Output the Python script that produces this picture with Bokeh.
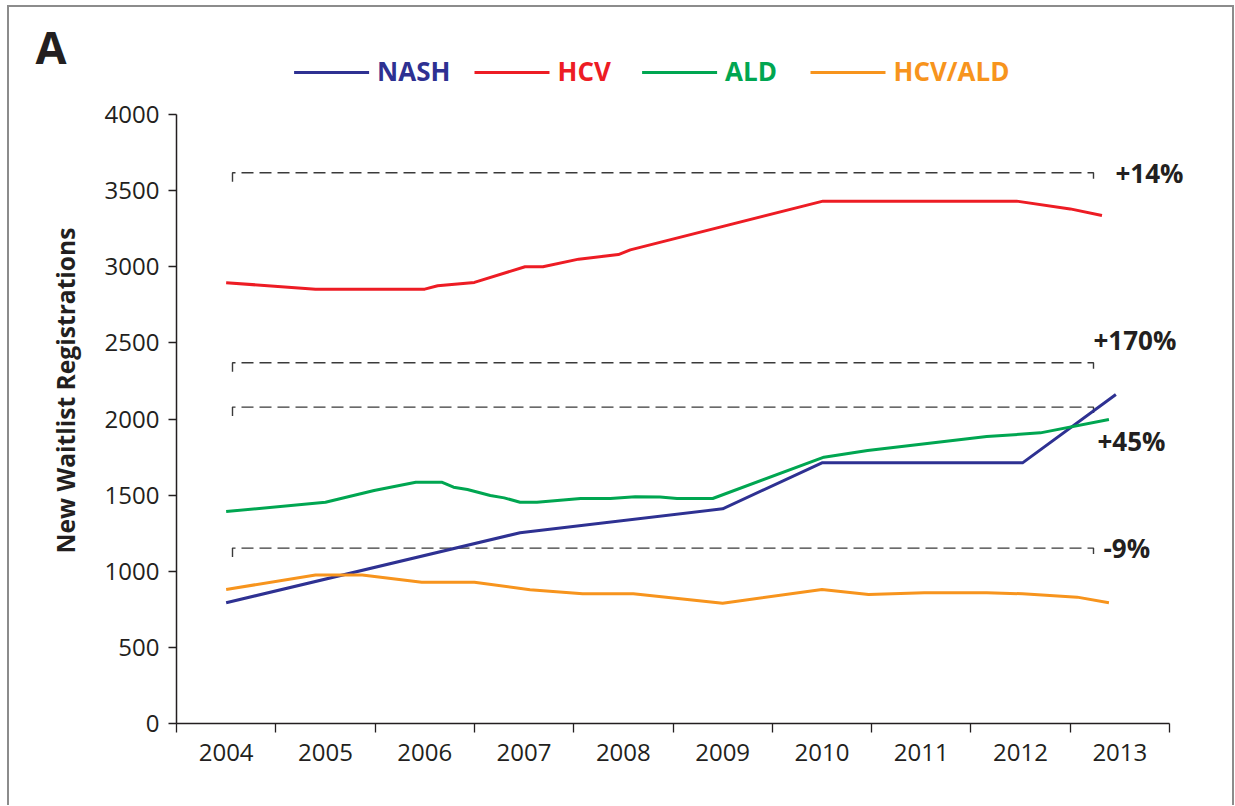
from bokeh.plotting import figure
from bokeh.layouts import column
from bokeh.models import Range1d, FixedTicker, LinearAxis, Title
from bokeh.embed import file_html
from bokeh.resources import INLINE
from bokeh.core.properties import value

# ---------------- data ----------------
YEARS = [2004, 2005, 2006, 2007, 2008, 2009, 2010, 2011, 2012, 2013]
Y_TICKS = [0, 500, 1000, 1500, 2000, 2500, 3000, 3500, 4000]

NASH_X = [2004.0, 2006.96, 2009.0, 2010.0, 2012.02, 2012.96]
NASH_Y = [793, 1253, 1410, 1712, 1712, 2161]

HCV_X = [2004.0, 2004.9, 2006.0, 2006.13, 2006.5, 2007.01, 2007.19, 2007.55,
         2007.95, 2008.07, 2010.01, 2011.96, 2012.5, 2012.82]
HCV_Y = [2895, 2853, 2853, 2875, 2897, 3000, 3000, 3050,
         3080, 3111, 3431, 3431, 3380, 3337]

ALD_X = [2004.0, 2005.0, 2005.49, 2005.91, 2006.17, 2006.29, 2006.43, 2006.66,
         2006.8, 2006.96, 2007.13, 2007.57, 2007.87, 2008.12, 2008.37, 2008.54,
         2008.9, 2010.02, 2010.46, 2011.66, 2012.2, 2012.89]
ALD_Y = [1392, 1453, 1530, 1585, 1585, 1552, 1537, 1498,
         1482, 1453, 1453, 1478, 1478, 1489, 1487, 1478,
         1478, 1749, 1793, 1885, 1909, 1997]

HCVALD_X = [2004.0, 2004.9, 2005.37, 2005.97, 2006.5, 2007.06, 2007.59, 2008.1,
            2009.0, 2010.0, 2010.47, 2011.03, 2011.66, 2012.02, 2012.57, 2012.89]
HCVALD_Y = [880, 976, 976, 928, 928, 878, 852, 852,
            790, 880, 847, 858, 858, 852, 830, 793]

SERIES_NAMES = ["NASH", "HCV", "ALD", "HCV/ALD"]
SERIES_COLORS = ["#2e3192", "#ed1c24", "#00a651", "#f7941d"]

BRACKET_LEVELS = [3617, 2369, 2078, 1152]
BRACKET_LABELS = ["+14%", "+170%", "+45%", "-9%"]

PANEL_LETTER = "A"
Y_LABEL = "New Waitlist Registrations"

# ---------------- layout helpers (page pixels) ----------------
ORIGIN_X, ORIGIN_Y = 9, 7          # page position of the content (inside the frame border)
TOP_H = 88                         # header strip height (letter + legend)
W = 1223
FRAME_L, FRAME_R = 176, 1215       # page x of the plotting frame
PX_PER_YEAR = 99.3
PX_PER_UNIT = 0.15225
X0 = 2003.5
TXT_SHIFT = 0.42                   # svg alphabetic-baseline correction (em)


def px2x(px):
    return X0 + (px - FRAME_L) / PX_PER_YEAR


def py2v(py):
    return (723 - py) / PX_PER_UNIT


TEXT = "#231f20"
FONT = "Open Sans"

# ---------------- header strip: panel letter + legend ----------------
top = figure(width=W, height=TOP_H,
             x_range=Range1d(FRAME_L, FRAME_R),
             y_range=Range1d(-(ORIGIN_Y + TOP_H), -ORIGIN_Y),
             x_axis_type=None, y_axis_type=None,
             output_backend="svg", toolbar_location=None,
             min_border_left=FRAME_L - ORIGIN_X, min_border_right=W - (FRAME_R - ORIGIN_X),
             min_border_top=0, min_border_bottom=0)
top.outline_line_color = None
top.xgrid.visible = False
top.ygrid.visible = False

letter_axis = LinearAxis(ticker=FixedTicker(ticks=[-46], minor_ticks=[]),
                         major_label_overrides={-46: PANEL_LETTER})
letter_axis.axis_line_color = None
letter_axis.major_tick_line_color = None
letter_axis.minor_tick_line_color = None
letter_axis.major_tick_in = 0
letter_axis.major_tick_out = 0
letter_axis.major_label_standoff = FRAME_L - 66
letter_axis.major_label_text_font = FONT
letter_axis.major_label_text_font_style = "bold"
letter_axis.major_label_text_font_size = "45px"
letter_axis.major_label_text_color = TEXT
top.add_layout(letter_axis, "left")

leg_line_start = [293.6, 474, 641.6, 810]
for name, c, sx in zip(SERIES_NAMES, SERIES_COLORS, leg_line_start):
    top.line([sx, sx + 75], [-72, -72], line_color=c, line_width=3)
    top.text(x=[sx + 83], y=[-(81 - TXT_SHIFT * 26)], text=[name],
             text_font=value(FONT), text_font_style="bold", text_font_size="26px",
             text_color=c, text_align="left", text_baseline="alphabetic")

# ---------------- main chart ----------------
main_top = ORIGIN_Y + TOP_H          # page y where the main figure begins
main_h = 806 - main_top - 1
main = figure(width=W, height=main_h,
              x_range=Range1d(X0, px2x(FRAME_R)), y_range=Range1d(0, py2v(114)),
              output_backend="svg", toolbar_location=None,
              min_border_left=FRAME_L - ORIGIN_X, min_border_right=W - (FRAME_R - ORIGIN_X),
              min_border_top=114 - main_top, min_border_bottom=main_top + main_h - 723)
main.outline_line_color = None
main.xgrid.visible = False
main.ygrid.visible = False

xax = main.xaxis[0]
yax = main.yaxis[0]

# x axis: labels at year centres, tick marks at boundaries
xax.ticker = FixedTicker(ticks=YEARS, minor_ticks=[y - 0.5 for y in YEARS] + [YEARS[-1] + 0.5])
xax.major_label_overrides = {y: str(y) for y in YEARS}
xax.bounds = (YEARS[0] - 0.5, YEARS[-1] + 0.5)
xax.major_tick_line_color = None
xax.minor_tick_in = 0
xax.minor_tick_out = 9
xax.minor_tick_line_color = TEXT
xax.minor_tick_line_width = 1.3
xax.major_label_standoff = 11

# y axis
yax.ticker = FixedTicker(ticks=Y_TICKS, minor_ticks=[])
yax.bounds = (Y_TICKS[0], Y_TICKS[-1])
yax.major_tick_in = 0
yax.major_tick_out = 8
yax.major_tick_line_color = TEXT
yax.major_tick_line_width = 1.3
yax.major_label_standoff = 9

for ax in (xax, yax):
    ax.axis_line_color = TEXT
    ax.axis_line_width = 1.5
    ax.major_label_text_font = FONT
    ax.major_label_text_font_size = "24px"
    ax.major_label_text_color = TEXT

# y axis title, placed as a side title so it can sit slightly above centre like the original
main.add_layout(Title(text=Y_LABEL, align="left", offset=723 - 553, standoff=40,
                      text_font=FONT, text_font_style="bold", text_font_size="24.6px",
                      text_color=TEXT), "left")

# dashed brackets
tick_depth = 9 / PX_PER_UNIT
bx0, bx1 = px2x(232), px2x(1093)
main.multi_line(xs=[[bx0, bx0, bx1, bx1] for _ in BRACKET_LEVELS],
                ys=[[lv - tick_depth, lv, lv, lv - tick_depth] for lv in BRACKET_LEVELS],
                line_color="#3a3a3a", line_width=1.4, line_dash="12 6")

# bracket labels
label_x = [px2x(1115), px2x(1093), px2x(1097), px2x(1103)]
label_y = [py2v(b - TXT_SHIFT * 26) for b in (183, 350, 451, 558)]
main.text(x=label_x, y=label_y, text=BRACKET_LABELS,
          text_font=value(FONT), text_font_style="bold", text_font_size="26px",
          text_color=TEXT, text_align="left", text_baseline="alphabetic")

# series lines
for xs, ys, c in zip([NASH_X, HCV_X, ALD_X, HCVALD_X],
                     [NASH_Y, HCV_Y, ALD_Y, HCVALD_Y], SERIES_COLORS):
    main.line(xs, ys, line_color=c, line_width=3, line_join="round")

p = column(top, main, spacing=0)
p.styles = {"margin-left": "7px", "margin-top": "5px",
            "border-left": "2px solid #8c8c8c",
            "border-top": "2px solid #8c8c8c",
            "border-right": "2px solid #8c8c8c"}

open("out.html", "w").write(file_html(p, INLINE))
